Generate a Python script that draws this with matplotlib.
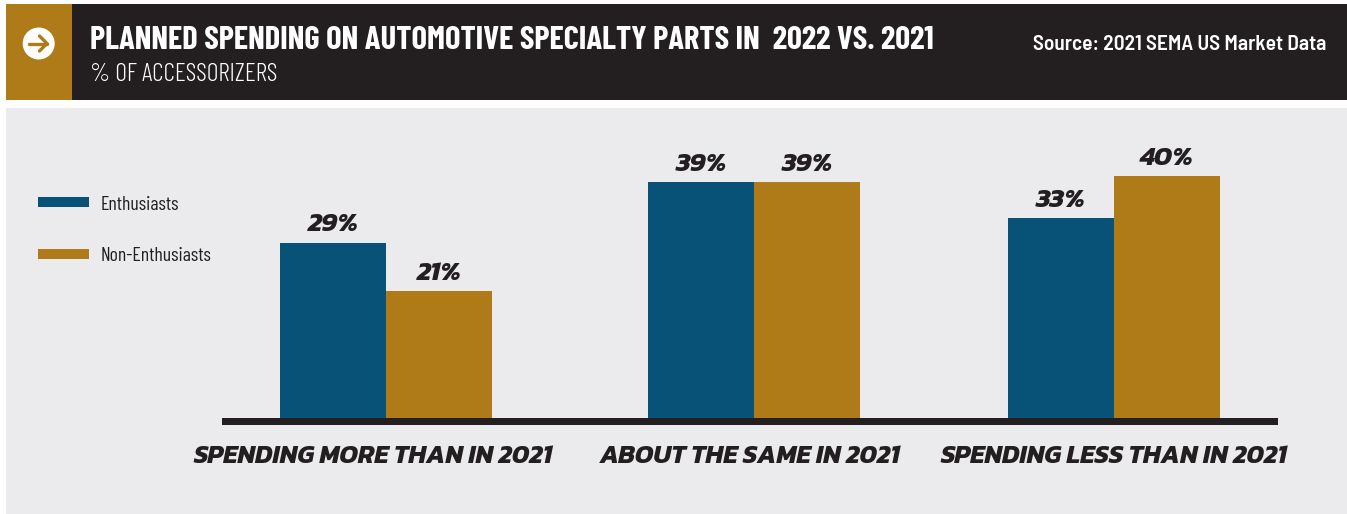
import matplotlib
matplotlib.use("Agg")
import matplotlib.pyplot as plt
from matplotlib import font_manager as fm
from matplotlib.patches import Rectangle, Circle, Patch

categories = ["SPENDING MORE THAN IN 2021", "ABOUT THE SAME IN 2021", "SPENDING LESS THAN IN 2021"]
enthusiasts = [29, 39, 33]
non_enthusiasts = [21, 39, 40]
series_names = ["Enthusiasts", "Non-Enthusiasts"]
title = "PLANNED SPENDING ON AUTOMOTIVE SPECIALTY PARTS IN  2022 VS. 2021"
subtitle = "% OF ACCESSORIZERS"
source = "Source: 2021 SEMA US Market Data"

GOLD, BLUE, DARK, PANEL = "#AF7A18", "#085278", "#231F20", "#EBEBED"
NARROW = ["Barlow Condensed", "Roboto Condensed", "DejaVu Sans"]
SEMI = ["Barlow Semi Condensed", "Roboto Condensed", "DejaVu Sans"]
HEAVY = ["Kanit", "Liberation Sans", "DejaVu Sans"]

W, H = 1347, 514
fig = plt.figure(figsize=(W / 100, H / 100), dpi=100, facecolor="white")

# Backdrop layer in pixel coordinates: header band, panel, arrow badge
bg = fig.add_axes([0, 0, 1, 1])
bg.set_xlim(0, W)
bg.set_ylim(H, 0)
bg.axis("off")
bg.add_patch(Rectangle((6, 108), W - 6, H - 108, color=PANEL, lw=0))
bg.add_patch(Rectangle((6, 4), W - 6, 96, color=DARK, lw=0))
bg.add_patch(Rectangle((6, 4), 66, 96, color=GOLD, lw=0))
bg.add_patch(Circle((38.7, 43.5), 16, color="white", lw=0))
bg.plot([29, 47], [43.5, 43.5], color=GOLD, lw=2.4, solid_capstyle="round")
bg.plot([39.5, 47, 39.5], [36, 43.5, 51], color=GOLD, lw=2.4,
        solid_capstyle="round", solid_joinstyle="miter")

bg.text(90, 49, title, color="white", family=NARROW, weight=700, fontsize=23.5, va="baseline")
bg.text(90, 81, subtitle, color="white", family=NARROW, weight=300, fontsize=18.5, va="baseline")
bg.text(1326, 50, source, color="white", family=SEMI, weight=600, fontsize=15.4, va="baseline", ha="right")

# Chart axes: x runs in the same units as the figure width, y in percent
PX_PER_PCT = 6.05
ax = fig.add_axes([222 / W, (H - 418) / H, (1278 - 222) / W, 310 / H])
ax.set_xlim(222, 1278)
ax.set_ylim(0, 310 / PX_PER_PCT)
ax.patch.set_alpha(0)
for s in ("top", "left", "right", "bottom"):
    ax.spines[s].set_visible(False)
ax.set_yticks([])
ax.set_xticks([])

group_centers = [386, 754, 1114]
label_centers = [373, 750, 1114]
bar_w = 106
left = ax.bar([c - bar_w / 2 for c in group_centers], enthusiasts, bar_w, color=BLUE, lw=0)
right = ax.bar([c + bar_w / 2 for c in group_centers], non_enthusiasts, bar_w, color=GOLD, lw=0)
for bars in (left, right):
    ax.bar_label(bars, fmt="%d%%", padding=4, color=DARK, family=HEAVY, weight=700,
                 style="italic", fontsize=19.5)

# Heavy baseline below the bars, category names under it
bg.add_patch(Rectangle((222, 418), 1056, 7, color=DARK, lw=0))
for cx, name in zip(label_centers, categories):
    bg.text(cx, 463, name, color=DARK, family=HEAVY, weight=700, style="italic",
            fontsize=18.6, ha="center", va="baseline")

fs = 14.2
fpx = fs * 100 / 72
bg.legend(handles=[Patch(color=BLUE, lw=0, label=series_names[0]), Patch(color=GOLD, lw=0, label=series_names[1])],
          loc="upper left", bbox_to_anchor=(38 / W, 1 - 195.5 / H), bbox_transform=fig.transFigure,
          frameon=False, prop=fm.FontProperties(family=NARROW, size=fs), labelcolor=DARK,
          borderpad=0, borderaxespad=0, handlelength=51 / fpx, handleheight=8 / fpx,
          handletextpad=12 / fpx, labelspacing=(53 - fpx) / fpx)

fig.savefig("out.png", dpi=100, facecolor="white")
